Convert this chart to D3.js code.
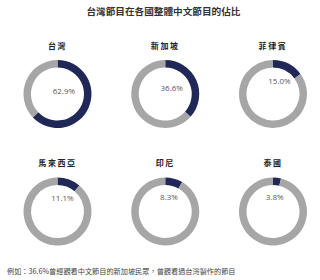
<!DOCTYPE html>
<html><head><meta charset="utf-8">
<script src="https://cdn.jsdelivr.net/npm/d3@7"></script>
<style>body{margin:0;background:#fff}</style>
</head><body>
<svg id="c" width="320" height="280"></svg>
<script>
const title = "台灣節目在各國整體中文節目的佔比";
const countries = ["台灣","新加坡","菲律賓","馬來西亞","印尼","泰國"];
const shares = [62.9, 36.6, 15.0, 11.1, 8.3, 3.8];
const note = "例如：36.6%曾經觀看中文節目的新加坡民眾，曾觀看過台灣製作的節目";

const svg = d3.select("#c");
const font = "'Noto Sans CJK TC','Noto Sans CJK SC',sans-serif";
const latin = "'Open Sans','Noto Sans',sans-serif";
const cols = d3.scalePoint().domain([0,1,2]).range([57.5,273]);
const rows = d3.scalePoint().domain([0,1]).range([94,211.5]);
const outerR = 34, innerR = 26.5;

function fit(sel, target){
  const fs = +sel.attr("font-size");
  const w = sel.node().getComputedTextLength();
  if (w > 0) sel.attr("font-size", fs * target / w);
}

const t = svg.append("text").attr("x",163.5).attr("y",14.5).attr("text-anchor","middle")
  .attr("font-family",font).attr("font-size",9.6).attr("font-weight","bold")
  .attr("fill","#333").text(title);
fit(t, 154);

const pie = d3.pie().sort(null).value(d=>d);
const arc = d3.arc().innerRadius(innerR).outerRadius(outerR);

countries.forEach((name,i)=>{
  const cx = cols(i%3), cy = rows(Math.floor(i/3));
  const g = svg.append("g").attr("transform",`translate(${cx},${cy})`);
  const arcs = pie([shares[i], 100-shares[i]]);
  g.selectAll("path").data(arcs).join("path")
    .attr("d",arc).attr("fill",(d,j)=>j===0?"#1f2857":"#a6a6a6");
  g.append("text").attr("x",0).attr("y",-45.5).attr("text-anchor","middle")
    .attr("font-family",font).attr("font-size",8).attr("font-weight","bold")
    .attr("letter-spacing",1.6).attr("fill","#222").text(name);
  const a = (arcs[0].startAngle+arcs[0].endAngle)/2;
  let lx = Math.sin(a)*14.5, ly = -Math.cos(a)*14.5;
  lx = Math.min(lx,6.5); ly = Math.min(ly,-3);
  g.append("text").attr("x",lx).attr("y",ly).attr("dy","0.35em")
    .attr("text-anchor","middle").attr("font-family",latin).attr("font-size",8)
    .attr("fill","#595959").text(d3.format(".1f")(shares[i])+"%");
});

const f = svg.append("text").attr("x",7).attr("y",273.5)
  .attr("font-family",font).attr("font-size",7).attr("fill","#444").text(note);
fit(f, 229);
</script>
</body></html>
